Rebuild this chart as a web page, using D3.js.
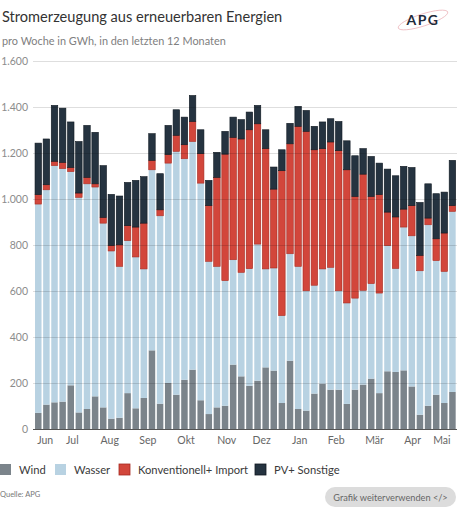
<!DOCTYPE html>
<html>
<head>
<meta charset="utf-8">
<script src="https://cdn.jsdelivr.net/npm/d3@7"></script>
<style>
  body { margin: 0; background: #fff; }
  svg { display: block; font-family: Lato, "Open Sans", sans-serif; }
</style>
</head>
<body>
<script>
// chart size
var w = 463, h = 512;

// weekly values, GWh
var wind = [70,106,116,119,190,72,87,142,94,45,49,156,90,135,342,110,200,149,214,258,125,65,94,101,280,229,188,210,268,254,113,297,87,80,154,197,171,171,109,171,193,219,156,251,248,255,185,62,101,149,113,161];
var wasser = [908,934,1029,1013,929,935,979,910,801,729,658,663,658,561,785,817,956,1058,961,992,944,664,613,544,456,452,509,594,428,446,380,465,620,521,471,499,532,430,439,398,410,413,435,546,450,623,655,626,787,583,572,785];
var konv = [41,22,19,27,18,19,28,14,25,24,94,65,130,199,41,26,37,70,61,87,128,242,387,550,532,580,604,523,523,343,630,478,609,693,589,523,545,609,579,442,505,379,428,146,224,78,131,67,29,95,167,25];
var pv = [224,199,243,236,198,224,226,224,225,222,212,188,203,202,116,157,127,111,120,113,104,110,109,99,88,84,77,80,82,96,91,89,87,91,102,116,101,127,126,177,111,174,137,187,179,186,166,230,149,196,178,197];

// month labels and the week (bar index) they sit under
var monthLabels = ["Jun","Jul","Aug","Sep","Okt","Nov","Dez","Jan","Feb","Mär","Apr","Mai"];
var monthWeeks = [0.85,4.2,8.8,13.5,18.2,23.2,27.5,32.2,36.7,41.4,46.1,49.7];

var yTicks = [0,200,400,600,800,1000,1200,1400,1600];

var seriesKeys = ["wind","wasser","konv","pv"];
var seriesNames = ["Wind","Wasser","Konventionell+ Import","PV+ Sonstige"];
var fills = {wind:"#7b848b", wasser:"#b8d2e2", konv:"#d2463b", pv:"#253340"};
var strokes = {wind:"none", wasser:"none", konv:"#a52a21", pv:"#0f1820"};

window.onload = function(){
  var svg = d3.select("body").append("svg")
    .attr("width", w)
    .attr("height", h);

  // title + subtitle
  svg.append("text")
    .attr("x", 2).attr("y", 22)
    .style("font-size", "14.6px")
    .style("fill", "#333")
    .text("Stromerzeugung aus erneuerbaren Energien");
  svg.append("text")
    .attr("x", 2).attr("y", 45)
    .style("font-size", "10.9px")
    .style("fill", "#808080")
    .text("pro Woche in GWh, in den letzten 12 Monaten");

  // logo
  var logo = svg.append("g").attr("transform", "translate(423,20)");
  logo.append("ellipse")
    .attr("rx", 26).attr("ry", 6)
    .attr("transform", "rotate(-18)")
    .style("fill", "none")
    .style("stroke", "#edb9be")
    .style("stroke-width", 0.8);
  logo.append("text")
    .attr("text-anchor", "middle")
    .attr("y", 5)
    .style("font-size", "14px")
    .style("font-weight", "bold")
    .style("fill", "#1f2b3a")
    .style("letter-spacing", "1.5px")
    .text("APG");

  // rows for stacking
  var rows = wind.map(function(d, i){
    return {i: i, wind: wind[i], wasser: wasser[i], konv: konv[i], pv: pv[i]};
  });
  var stacked = d3.stack().keys(seriesKeys)(rows);

  var x = d3.scaleBand()
    .domain(rows.map(function(d){ return d.i; }))
    .range([33.4, 457.3])
    .padding(0.2);

  var y = d3.scaleLinear()
    .domain([0, 1600])
    .range([429, 61]);

  // bars
  var layers = svg.append("g").selectAll("g")
    .data(stacked)
    .enter().append("g")
    .style("fill", function(d){ return fills[d.key]; })
    .style("stroke", function(d){ return strokes[d.key]; })
    .style("stroke-width", 0.6);

  layers.selectAll("rect")
    .data(function(d){ return d; })
    .enter().append("rect")
    .attr("x", function(d){ return x(d.data.i); })
    .attr("width", x.bandwidth())
    .attr("y", function(d){ return y(d[1]); })
    .attr("height", function(d){ return y(d[0]) - y(d[1]); });

  // grid lines (drawn over the bars, faint)
  svg.append("g").selectAll("line")
    .data(yTicks.slice(1))
    .enter().append("line")
    .attr("x1", 33).attr("x2", 457)
    .attr("y1", function(d){ return y(d) + 0.5; })
    .attr("y2", function(d){ return y(d) + 0.5; })
    .style("stroke", "rgba(0,0,0,0.13)")
    .style("stroke-width", 1);

  // base line
  svg.append("line")
    .attr("x1", 33).attr("x2", 457)
    .attr("y1", y(0) + 0.5).attr("y2", y(0) + 0.5)
    .style("stroke", "#555")
    .style("stroke-width", 1);

  // y labels
  var fmt = d3.formatLocale({decimal: ",", thousands: ".", grouping: [3], currency: ["", "€"]}).format(",");
  svg.append("g").selectAll("text")
    .data(yTicks)
    .enter().append("text")
    .attr("x", 28)
    .attr("y", function(d){ return y(d); })
    .attr("dy", "0.35em")
    .attr("text-anchor", "end")
    .style("font-size", "10.5px")
    .style("fill", "#8c8c8c")
    .text(function(d){ return fmt(d); });

  // month labels
  var step = x.step();
  svg.append("g").selectAll("text")
    .data(monthLabels)
    .enter().append("text")
    .attr("x", function(d, i){ return x(0) + x.bandwidth() / 2 + step * monthWeeks[i]; })
    .attr("y", 444)
    .attr("text-anchor", "middle")
    .style("font-size", "10.5px")
    .style("fill", "#666")
    .text(function(d){ return d; });

  // legend
  var legendX = [19, 74, 138, 274];
  var legend = svg.append("g").selectAll("g")
    .data(seriesKeys)
    .enter().append("g")
    .attr("transform", function(d, i){ return "translate(" + legendX[i] + ",0)"; });
  legend.append("rect")
    .attr("x", -19).attr("y", 464)
    .attr("width", 11).attr("height", 11)
    .style("fill", function(d){ return fills[d]; })
    .style("stroke", function(d){ return strokes[d]; })
    .style("stroke-width", 0.8);
  legend.append("text")
    .attr("x", 0).attr("y", 473.5)
    .style("font-size", "11.2px")
    .style("fill", "#3a3a3a")
    .text(function(d, i){ return seriesNames[i]; });

  // source
  svg.append("text")
    .attr("x", 0).attr("y", 497)
    .style("font-size", "7.5px")
    .style("fill", "#777")
    .text("Quelle: APG");

  // button
  svg.append("rect")
    .attr("x", 325).attr("y", 487)
    .attr("width", 131).attr("height", 20)
    .attr("rx", 10)
    .style("fill", "#dcdcdc");
  svg.append("text")
    .attr("x", 390.5).attr("y", 500.5)
    .attr("text-anchor", "middle")
    .style("font-size", "9.2px")
    .style("fill", "#666")
    .text("Grafik weiterverwenden </>");
};
</script>
</body>
</html>
